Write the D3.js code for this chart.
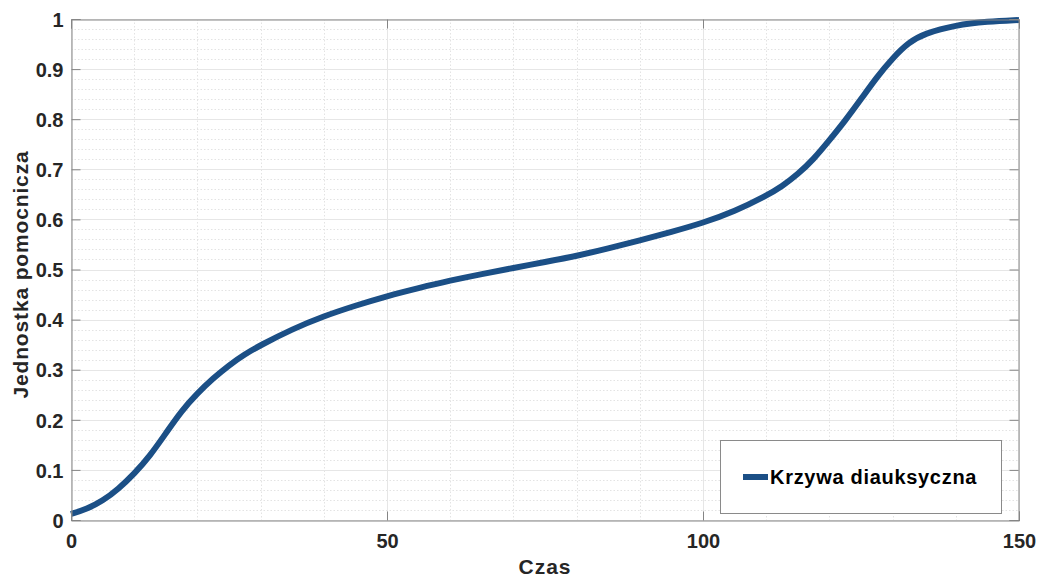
<!DOCTYPE html>
<html>
<head>
<meta charset="utf-8">
<script src="https://cdn.jsdelivr.net/npm/d3@7"></script>
<style>
  html, body { margin: 0; padding: 0; background: #fff; }
  svg { display: block; }
  text { font-family: "Liberation Sans", Arial, sans-serif; font-weight: bold; }
</style>
</head>
<body>
<svg id="chart" width="1039" height="580"></svg>
<script>
// ---- data ----
const timeValues = [0, 2.5, 5, 7.5, 10, 12.5, 15, 17.5, 20, 22.5, 25, 27.5, 30, 35, 40, 45, 50, 55, 60, 65, 70, 75,
                    80, 85, 90, 95, 100, 105, 110, 112.5, 115, 117.5, 120, 122.5, 125, 127.5, 130, 132.5,
                    135, 140, 145, 150];
const curveValues = [0.012, 0.022, 0.038, 0.062, 0.092, 0.128, 0.173, 0.218, 0.253, 0.283, 0.309, 0.331,
                     0.349, 0.381, 0.407, 0.428, 0.447, 0.463, 0.478, 0.491, 0.503, 0.515, 0.527, 0.542,
                     0.558, 0.575, 0.593, 0.616, 0.647, 0.666, 0.690, 0.720, 0.758, 0.797, 0.840, 0.884,
                     0.922, 0.953, 0.971, 0.988, 0.995, 0.998];
const xTickValues = [0, 50, 100, 150];
const yTickValues = [0, 0.1, 0.2, 0.3, 0.4, 0.5, 0.6, 0.7, 0.8, 0.9, 1];
const yTickLabels = ["0", "0.1", "0.2", "0.3", "0.4", "0.5", "0.6", "0.7", "0.8", "0.9", "1"];
const xMinorTicks = d3.range(0, 151, 10);
const yMinorTicks = d3.range(0, 51).map(i => i * 0.02);
const seriesName = "Krzywa diauksyczna";
const xLabel = "Czas";
const yLabel = "Jednostka pomocnicza";

// ---- layout ----
const svg = d3.select("#chart");
const L = 71, R = 1019, T = 19, B = 520;
const x = d3.scaleLinear().domain([0, 150]).range([L, R]);
const y = d3.scaleLinear().domain([0, 1]).range([B, T]);

const axisColor = "#858585";
const textColor = "#262626";

// minor grid
const g = svg.append("g");
g.selectAll(".mx").data(xMinorTicks.filter(v => !xTickValues.includes(v))).join("line")
  .attr("x1", d => Math.round(x(d)) + 0.5).attr("x2", d => Math.round(x(d)) + 0.5)
  .attr("y1", T).attr("y2", B)
  .attr("stroke", "#e3e3e3").attr("stroke-width", 1).attr("stroke-dasharray", "1.5,2");
g.selectAll(".my").data(yMinorTicks.filter(v => Math.abs(v * 10 - Math.round(v * 10)) > 1e-6)).join("line")
  .attr("y1", d => Math.round(y(d)) + 0.5).attr("y2", d => Math.round(y(d)) + 0.5)
  .attr("x1", L).attr("x2", R)
  .attr("stroke", "#e3e3e3").attr("stroke-width", 1).attr("stroke-dasharray", "1.5,2");
// major grid
g.selectAll(".gx").data(xTickValues).join("line")
  .attr("x1", d => Math.round(x(d)) + 0.5).attr("x2", d => Math.round(x(d)) + 0.5)
  .attr("y1", T).attr("y2", B)
  .attr("stroke", "#e6e6e6").attr("stroke-width", 1);
g.selectAll(".gy").data(yTickValues).join("line")
  .attr("y1", d => Math.round(y(d)) + 0.5).attr("y2", d => Math.round(y(d)) + 0.5)
  .attr("x1", L).attr("x2", R)
  .attr("stroke", "#e6e6e6").attr("stroke-width", 1);

// axes via d3 axis (inward ticks)
const xAxis = d3.axisBottom(x).tickValues(xTickValues).tickSize(-9).tickFormat(d3.format("d"));
const yAxis = d3.axisLeft(y).tickValues(yTickValues).tickSize(-9)
  .tickFormat((d, i) => yTickLabels[i]);
const xAxisTop = d3.axisTop(x).tickValues(xTickValues).tickSize(-9).tickFormat("");
const yAxisRight = d3.axisRight(y).tickValues(yTickValues).tickSize(-9).tickFormat("");

function styleAxis(sel) {
  sel.select(".domain").attr("stroke", axisColor);
  sel.selectAll(".tick line").attr("stroke", axisColor);
  sel.selectAll(".tick text").attr("fill", textColor)
    .style("font-size", "20px").style("font-family", "'Liberation Sans', Arial, sans-serif")
    .style("font-weight", "bold");
}

// line
const line = d3.line().x((d, i) => x(timeValues[i])).y(d => y(d)).curve(d3.curveBasis);
svg.append("path").datum(curveValues)
  .attr("d", line).attr("fill", "none")
  .attr("stroke", "#1b4f86").attr("stroke-width", 6).attr("stroke-linejoin", "round");

svg.append("g").attr("transform", `translate(0,${B + 0.5})`).call(xAxis).call(styleAxis)
  .selectAll(".tick text").attr("dy", null).attr("y", 27);
svg.append("g").attr("transform", `translate(${L + 0.5},0)`).call(yAxis).call(styleAxis)
  .selectAll(".tick text").attr("x", -8).attr("dy", "0.36em");
svg.append("g").attr("transform", `translate(0,${T + 0.5})`).call(xAxisTop).call(styleAxis);
svg.append("g").attr("transform", `translate(${R - 0.5},0)`).call(yAxisRight).call(styleAxis);

// axis labels
svg.append("text").attr("x", x(75)).attr("y", 574).attr("text-anchor", "middle")
  .attr("fill", textColor).style("font-size", "21px").style("letter-spacing", "1px").text(xLabel);
svg.append("text").attr("transform", `translate(28,${y(0.49)}) rotate(-90)`)
  .attr("text-anchor", "middle").attr("fill", textColor)
  .style("font-size", "21px").style("letter-spacing", "0.85px").text(yLabel);

// legend
const lg = svg.append("g");
lg.append("rect").attr("x", 720.5).attr("y", 440.5).attr("width", 281).attr("height", 73)
  .attr("fill", "#fff").attr("stroke", "#8a8a8a").attr("stroke-width", 1);
lg.append("line").attr("x1", 743).attr("x2", 768).attr("y1", 477).attr("y2", 477)
  .attr("stroke", "#1b4f86").attr("stroke-width", 6);
lg.append("text").attr("x", 770).attr("y", 484).attr("fill", "#000")
  .style("font-size", "20px").style("letter-spacing", "0.7px").text(seriesName);
</script>
</body>
</html>
